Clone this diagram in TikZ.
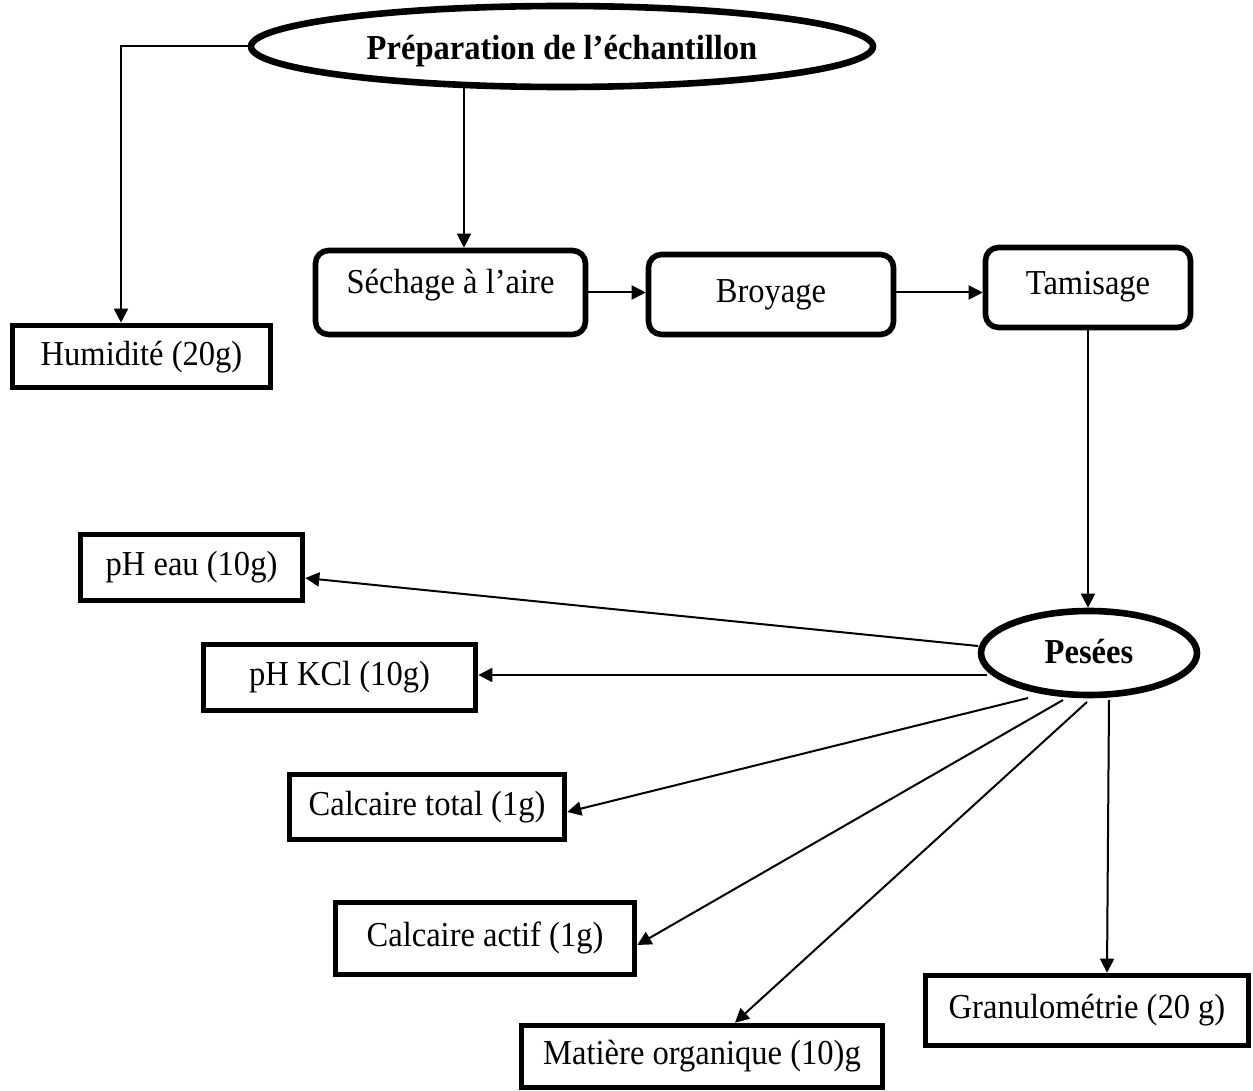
\documentclass[tikz,border=0pt]{standalone}
\usepackage{fontspec}
\setmainfont[FakeStretch=0.93]{Liberation Serif}
\usetikzlibrary{arrows.meta,shapes.geometric,calc}
\begin{document}
\begin{tikzpicture}[x=0.5pt,y=-0.5pt,
  every node/.style={font=\fontsize{17.5pt}{20pt}\selectfont, inner sep=0pt, text height=11.5pt, text depth=3.5pt},
  sbox/.style 2 args={draw, line width=2.8pt, minimum width=#1pt, minimum height=#2pt},
  rbox/.style 2 args={draw, line width=2.8pt, rounded corners=6.5pt, minimum width=#1pt, minimum height=#2pt},
  oval/.style={draw, ellipse, line width=3.3pt, font=\fontsize{17.5pt}{20pt}\selectfont\bfseries},
  arr/.style={-{Triangle[length=7pt,width=7pt]}, line width=1pt}]
\useasboundingbox (0,0) rectangle (1253,1091);

\node[oval, minimum width=311pt, minimum height=40.5pt, text height=13.5pt, text depth=0pt] (prep) at (562,46.5) {Préparation de l’échantillon};
\node[sbox={129}{31}, text depth=2.5pt] (hum) at (141.5,356.5) {Humidité (20g)};
\node[rbox={135}{42}, text depth=10.5pt] (sech) at (450.5,292.5) {Séchage à l’aire};
\node[rbox={122.5}{40}] (broy) at (771,294.5) {Broyage};
\node[rbox={102.5}{40}, text depth=5pt] (tam) at (1088,287.5) {Tamisage};
\node[oval, minimum width=108pt, minimum height=42pt, text depth=1.5pt] (pes) at (1089,653) {Pesées};
\node[sbox={111}{33}] (pheau) at (191.5,567.5) {pH eau (10g)};
\node[sbox={136}{33}] (phkcl) at (339.5,677.5) {pH KCl (10g)};
\node[sbox={137.5}{32.5}] (caltot) at (427,807) {Calcaire total (1g)};
\node[sbox={149.5}{36}] (calact) at (485,938.5) {Calcaire actif (1g)};
\node[sbox={180.5}{31}] (mat) at (702,1056.5) {Matière organique (10)g};
\node[sbox={161.5}{35}] (gran) at (1087,1010.5) {Granulométrie (20 g)};

\draw[arr] (prep.west) -| ($(hum.north)+(-20.5,0)$);
\draw[arr] (prep.203) -- (prep.203 |- sech.north);
\draw[arr] (sech.east) -- (sech.east -| broy.west);
\draw[arr] (broy.east |- sech.east) -- (tam.west |- sech.east);
\draw[arr] (tam.south) -- (tam.south |- pes.north);

\draw[arr] ($(pes.center)+(-111,-7)$) -- ($(pheau.east)+(0,10.5)$);
\draw[arr] ($(pes.center)+(-102,22)$) -- ($(phkcl.east)+(0,-2.5)$);
\draw[arr] ($(pes.center)+(-61,45)$) -- ($(caltot.east)+(0,5)$);
\draw[arr] ($(pes.center)+(-26,47)$) -- ($(calact.east)+(0,6.5)$);
\draw[arr] ($(pes.center)+(-2,49)$) -- ($(mat.north)+(33,0)$);
\draw[arr] ($(pes.center)+(20,47)$) -- ($(gran.north)+(20,0)$);
\end{tikzpicture}
\end{document}
